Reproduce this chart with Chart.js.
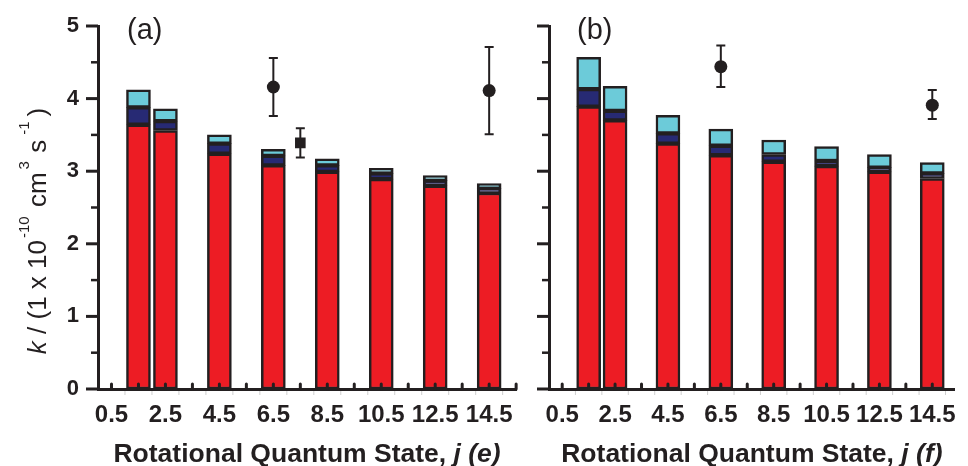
<!DOCTYPE html>
<html>
<head>
<meta charset="utf-8">
<script src="https://cdn.jsdelivr.net/npm/chart.js@4.4.1/dist/chart.umd.min.js"></script>
<style>
html, body { margin: 0; padding: 0; background: #fff; }
#wrap { position: relative; width: 968px; height: 466px; overflow: hidden; }
#boxA { position: absolute; left: 0; top: 0; }
#boxB { position: absolute; left: 520px; top: 0; }
</style>
</head>
<body>
<div id="wrap">
  <div id="boxA"><canvas id="chartA" width="525" height="466"></canvas></div>
  <div id="boxB"><canvas id="chartB" width="448" height="466"></canvas></div>
</div>
<script>
// where the bars sit on the x axis, and the tick labels
var barX = [1, 2, 4, 6, 8, 10, 12, 14];
var tickX = [0, 2, 4, 6, 8, 10, 12, 14];
var tickLabels = ['0.5', '2.5', '4.5', '6.5', '8.5', '10.5', '12.5', '14.5'];

// panel (a), j (e) : red + navy + cyan parts of each stacked bar
var redA  = [3.64, 3.56, 3.24, 3.08, 2.99, 2.89, 2.80, 2.70];
var navyA = [0.24, 0.13, 0.14, 0.13, 0.09, 0.08, 0.07, 0.06];
var cyanA = [0.24, 0.17, 0.12, 0.09, 0.09, 0.07, 0.07, 0.07];
// panel (a) measured points with error bars
var circAx  = [6, 14];
var circAy  = [4.16, 4.11];
var circAlo = [3.76, 3.51];
var circAhi = [4.56, 4.71];
var sqAx  = [7];
var sqAy  = [3.39];
var sqAlo = [3.19];
var sqAhi = [3.59];

// panel (b), j (f)
var redB  = [3.89, 3.70, 3.38, 3.22, 3.13, 3.07, 2.99, 2.90];
var navyB = [0.24, 0.13, 0.14, 0.13, 0.10, 0.07, 0.06, 0.07];
var cyanB = [0.44, 0.34, 0.25, 0.23, 0.20, 0.20, 0.18, 0.15];
var circBx  = [6, 14];
var circBy  = [4.44, 3.91];
var circBlo = [4.16, 3.72];
var circBhi = [4.73, 4.12];

var ink = '#231f20';
var fam = "'Liberation Sans', Arial, Helvetica, sans-serif";

function pairs(xs, ys) {
  return xs.map(function (x, i) { return { x: x, y: ys[i] }; });
}

function barSet(vals, color) {
  return {
    type: 'bar',
    data: pairs(barX, vals),
    backgroundColor: color,
    borderColor: ink,
    borderWidth: 2.5,
    borderSkipped: false,
    barThickness: 24,
    stack: 'k',
    order: 2
  };
}

function pointSet(xs, ys, lo, hi, style) {
  return {
    type: 'line',
    data: pairs(xs, ys),
    showLine: false,
    pointStyle: style,
    pointRadius: style == 'rect' ? 7.5 : 6.5,
    pointBackgroundColor: ink,
    pointBorderWidth: 0,
    stack: 'p' + style + xs.join(''),
    errLo: lo,
    errHi: hi,
    order: 1
  };
}

// axis ticks, error bars, titles
var decor = {
  id: 'decor',
  beforeDatasetsDraw: function (chart) {
    var ctx = chart.ctx, xs = chart.scales.x, ys = chart.scales.y;
    ctx.save();
    ctx.strokeStyle = ink;
    ctx.lineWidth = 2;
    chart.data.datasets.forEach(function (ds) {
      if (!ds.errLo) return;
      ds.data.forEach(function (p, i) {
        var px = xs.getPixelForValue(p.x);
        var t = ys.getPixelForValue(ds.errHi[i]);
        var b = ys.getPixelForValue(ds.errLo[i]);
        ctx.beginPath();
        ctx.moveTo(px, t); ctx.lineTo(px, b);
        ctx.moveTo(px - 4.5, t); ctx.lineTo(px + 4.5, t);
        ctx.moveTo(px - 4.5, b); ctx.lineTo(px + 4.5, b);
        ctx.stroke();
      });
    });
    ctx.restore();
  },
  afterDraw: function (chart, args, opts) {
    var ctx = chart.ctx, xs = chart.scales.x, ys = chart.scales.y;
    var area = chart.chartArea;
    ctx.save();
    ctx.strokeStyle = ink;
    // y ticks, pointing out
    for (var v = 0; v <= 5; v += 0.5) {
      var py = ys.getPixelForValue(v);
      var major = v % 1 === 0;
      ctx.lineWidth = major ? 3 : 2.5;
      ctx.beginPath();
      ctx.moveTo(area.left - (major ? 12 : 7), py);
      ctx.lineTo(area.left, py);
      ctx.stroke();
    }
    // x ticks: small bumps inside, faint marks outside
    ctx.lineCap = 'round';
    ctx.lineWidth = 3;
    for (var k = Math.ceil(xs.min); k <= Math.floor(xs.max); k++) {
      var px = xs.getPixelForValue(k);
      ctx.beginPath();
      ctx.moveTo(px, area.bottom);
      ctx.lineTo(px, area.bottom - 5);
      ctx.stroke();
    }
    ctx.lineCap = 'butt';
    ctx.strokeStyle = '#cfcfcf';
    ctx.lineWidth = 1;
    for (var h = xs.min + 1; h <= xs.max; h += 1) {
      var hx = xs.getPixelForValue(h);
      ctx.beginPath();
      ctx.moveTo(hx, area.bottom + 2);
      ctx.lineTo(hx, area.bottom + 6);
      ctx.stroke();
    }
    ctx.fillStyle = ink;
    // panel label
    ctx.font = '29px ' + fam;
    ctx.textBaseline = 'alphabetic';
    ctx.textAlign = 'left';
    ctx.fillText(opts.panel, opts.panelX, 39);
    // x title
    var mainT = 'Rotational Quantum State, ';
    var itT = 'j (' + opts.tag + ')';
    ctx.font = 'bold 26.5px ' + fam;
    var w1 = ctx.measureText(mainT).width;
    ctx.font = 'italic bold 26.5px ' + fam;
    var w2 = ctx.measureText(itT).width;
    var x0 = (area.left + area.right) / 2 - (w1 + w2) / 2;
    ctx.font = 'bold 26.5px ' + fam;
    ctx.fillText(mainT, x0, 462);
    ctx.font = 'italic bold 26.5px ' + fam;
    ctx.fillText(itT, x0 + w1, 462);
    // y title with superscripts
    if (opts.yTitle) {
      var segs = [
        { t: 'k', f: 'italic 26px ', sup: false, gap: 0 },
        { t: ' / (1 x 10', f: '26px ', sup: false, gap: 0 },
        { t: '-10', f: '15px ', sup: true, gap: 2 },
        { t: ' cm', f: '26px ', sup: false, gap: 2 },
        { t: '3', f: '15px ', sup: true, gap: 3 },
        { t: ' s', f: '26px ', sup: false, gap: 1 },
        { t: '-1', f: '15px ', sup: true, gap: 5 },
        { t: ')', f: '26px ', sup: false, gap: 5 }
      ];
      var total = 0;
      segs.forEach(function (s) {
        ctx.font = s.f + fam;
        s.w = ctx.measureText(s.t).width;
        total += s.gap + s.w;
      });
      ctx.translate(46, 231);
      ctx.rotate(-Math.PI / 2);
      var cx = -total / 2;
      segs.forEach(function (s) {
        cx += s.gap;
        ctx.font = s.f + fam;
        ctx.fillText(s.t, cx, s.sup ? -17 : 0);
        cx += s.w;
      });
    }
    ctx.restore();
  }
};

function makeChart(id, sets, yWidth, xMax, rightPad, showY, opts) {
  return new Chart(document.getElementById(id), {
    data: { datasets: sets },
    options: {
      responsive: false,
      animation: false,
      layout: { padding: { top: 26, right: rightPad, left: 0, bottom: 0 } },
      plugins: {
        legend: { display: false },
        tooltip: { enabled: false },
        decor: opts
      },
      scales: {
        x: {
          type: 'linear',
          min: -0.5,
          max: xMax,
          offset: false,
          stacked: true,
          grid: { display: false, drawTicks: false },
          border: { display: true, width: 3, color: ink },
          ticks: {
            color: ink,
            font: { family: fam, size: 24, weight: 'bold' },
            padding: 12,
            autoSkip: false,
            maxRotation: 0,
            callback: function (val) {
              var i = tickX.indexOf(val);
              return i < 0 ? '' : tickLabels[i];
            }
          },
          afterBuildTicks: function (scale) {
            scale.ticks = tickX.map(function (v) { return { value: v }; });
          },
          afterFit: function (scale) { scale.height = 77; }
        },
        y: {
          min: 0,
          max: 5,
          stacked: true,
          grid: { display: false, drawTicks: false },
          border: { display: true, width: 3, color: ink },
          ticks: {
            display: showY,
            stepSize: 1,
            color: ink,
            padding: 19,
            font: { family: fam, size: 22, weight: 'bold' }
          },
          afterFit: function (scale) {
            scale.width = yWidth;
            // the layout padding already leaves room for the top label
            scale.paddingTop = 0;
            scale.paddingBottom = 0;
          }
        }
      }
    },
    plugins: [decor]
  });
}

makeChart('chartA', [
  barSet(redA, '#ed1c24'),
  barSet(navyA, '#272a74'),
  barSet(cyanA, '#6ccbd9'),
  pointSet(circAx, circAy, circAlo, circAhi, 'circle'),
  pointSet(sqAx, sqAy, sqAlo, sqAhi, 'rect')
], 98, 15, 4, true, { panel: '(a)', panelX: 127, tag: 'e', yTitle: true });

makeChart('chartB', [
  barSet(redB, '#ed1c24'),
  barSet(navyB, '#272a74'),
  barSet(cyanB, '#6ccbd9'),
  pointSet(circBx, circBy, circBlo, circBhi, 'circle')
], 29, 14.85, 0, false, { panel: '(b)', panelX: 57, tag: 'f', yTitle: false });
</script>
</body>
</html>
